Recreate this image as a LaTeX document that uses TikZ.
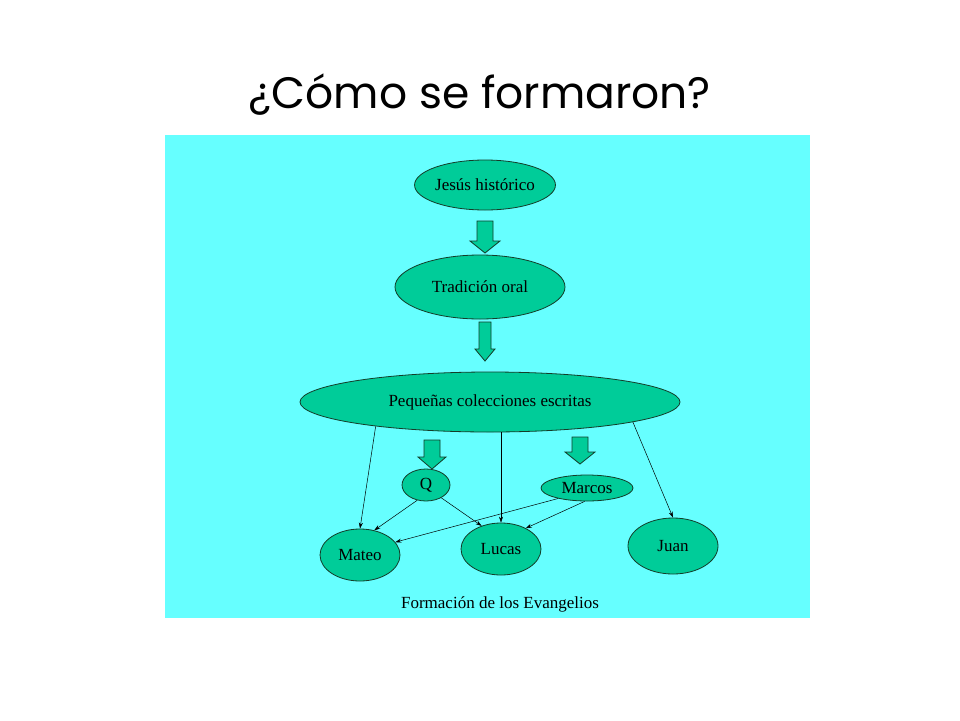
\documentclass[tikz,border=0pt]{standalone}
\usepackage{fontspec}
\setmainfont{Liberation Serif}
\newfontfamily\titlefont{Poppins}
\usetikzlibrary{shapes.geometric,arrows.meta}
\definecolor{bgc}{RGB}{102,255,255}
\definecolor{gc}{RGB}{0,204,153}
\definecolor{lc}{RGB}{20,60,40}
\tikzset{
 ell/.style={ellipse,draw=lc,fill=gc,line width=0.8pt,inner sep=0pt,font=\fontsize{17}{17}\selectfont},
 conn/.style={draw=black,line width=0.5pt,-{Stealth[length=6pt,width=4pt]}},
 barrow/.style={draw=lc,fill=gc,line width=0.8pt}
}
\newcommand\blockarrow[5]{% x, ytop, ybottom, shaft half, head half
 \draw[barrow] (#1-#4,#2) -- (#1+#4,#2) -- (#1+#4,#3-12) -- (#1+#5,#3-12) -- (#1,#3) -- (#1-#5,#3-12) -- (#1-#4,#3-12) -- cycle;}
\begin{document}
\begin{tikzpicture}[x=1pt,y=-1pt]
\useasboundingbox (0,0) rectangle (960,720);
\fill[white] (0,0) rectangle (960,720);
\node (title) at (480,95) {\titlefont\fontsize{44}{44}\selectfont ¿Cómo se formaron?};
\fill[bgc] (165,135) rectangle (810,618);
\node[ell,minimum width=136pt,minimum height=50pt] (jesus) at (485,185) {Jesús histórico};
\node[ell,minimum width=170pt,minimum height=64pt] (trad) at (480,287) {Tradición oral};
\node[ell,minimum width=380pt,minimum height=60pt] (peq) at (490,402) {Pequeñas colecciones escritas};
\node[ell,minimum width=48pt,minimum height=32pt] (q) at (426,485) {Q};
\node[ell,minimum width=92pt,minimum height=26pt] (marcos) at (587,488) {Marcos};
\node[ell,minimum width=80pt,minimum height=52pt] (mateo) at (360,555) {Mateo};
\node[ell,minimum width=80pt,minimum height=52pt] (lucas) at (501,549) {Lucas};
\node[ell,minimum width=90pt,minimum height=56pt] (juan) at (673,546) {Juan};
\node[font=\fontsize{17}{17}\selectfont] (cap) at (500,604) {Formación de los Evangelios};
\blockarrow{485}{221}{253}{8}{15}
\blockarrow{485}{322}{361}{6}{10}
\blockarrow{432}{440}{469}{8}{14}
\blockarrow{580}{437}{464}{8}{15}
\draw[conn] (peq.192) -- (mateo.north);
\draw[conn] (lucas.north |- peq.south) -- (lucas.north);
\draw[conn] (peq.-8) -- (juan.north);
\draw[conn] (q.240) -- (mateo.60);
\draw[conn] (q.-40) -- (lucas.130);
\draw[conn] (marcos.200) -- (mateo.20);
\draw[conn] (marcos.-100) -- (lucas.40);
\end{tikzpicture}
\end{document}
